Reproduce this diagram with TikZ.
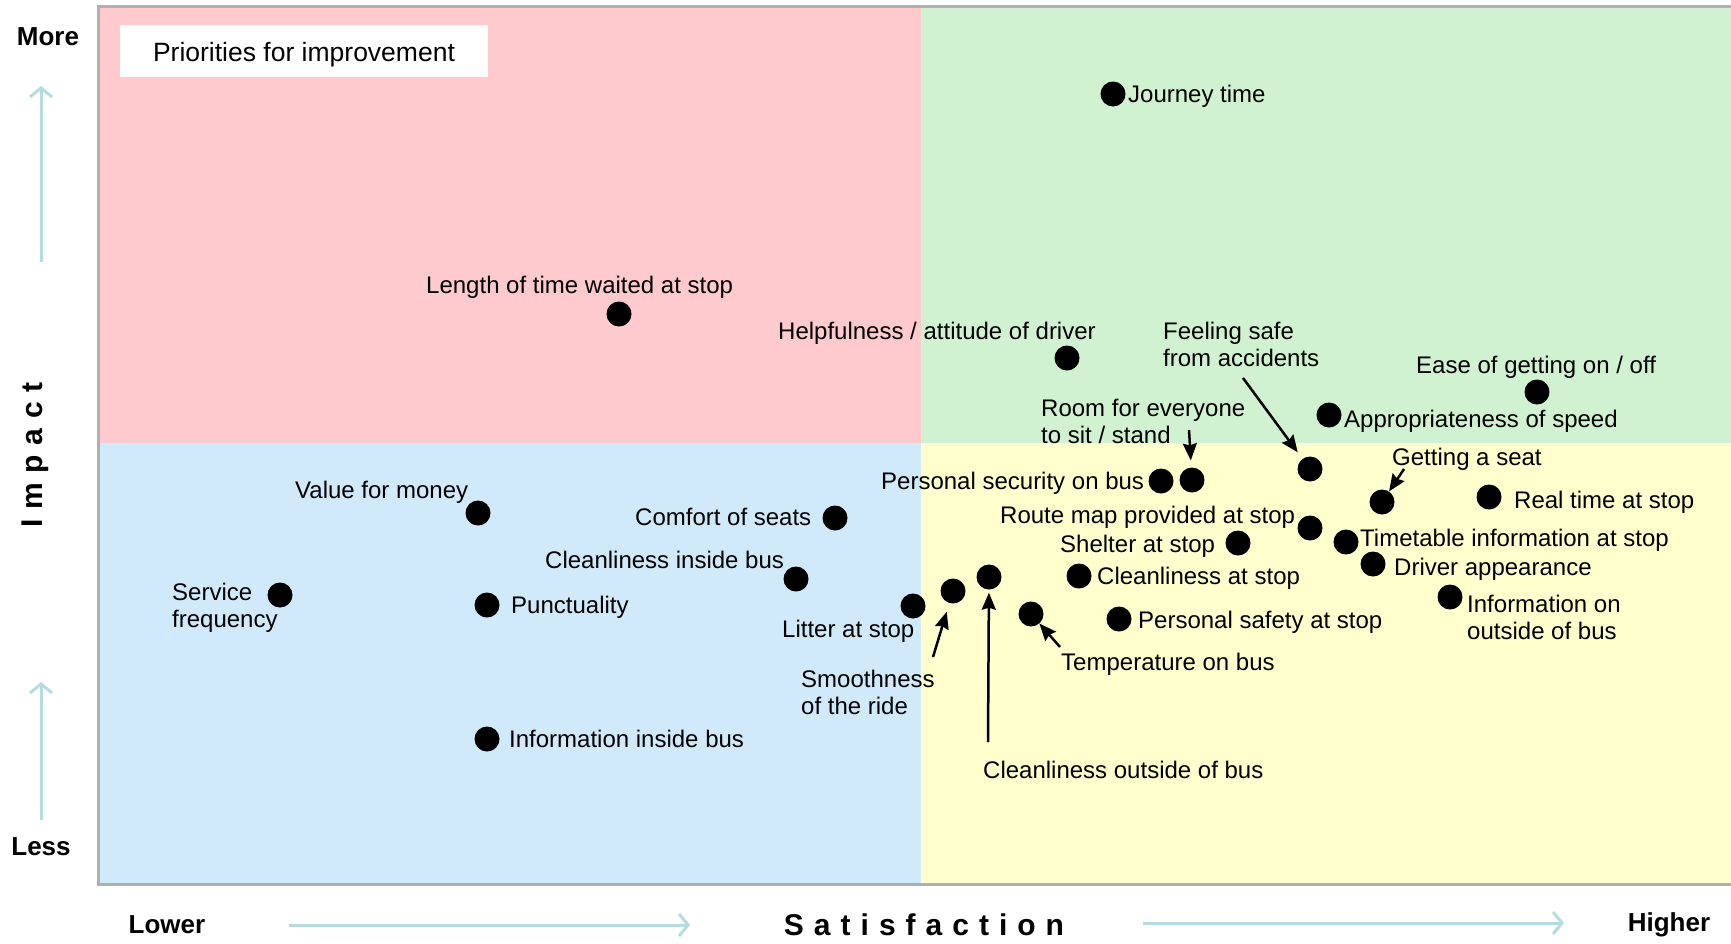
\documentclass[tikz,border=0pt]{standalone}
\usepackage{fontspec}
\setmainfont{Liberation Sans}
\usetikzlibrary{arrows.meta}
\definecolor{redq}{RGB}{255,202,206}
\definecolor{greenq}{RGB}{208,242,208}
\definecolor{blueq}{RGB}{208,234,252}
\definecolor{yellowq}{RGB}{255,255,206}
\definecolor{framecol}{RGB}{176,176,176}
\definecolor{axcol}{RGB}{180,220,224}
\begin{document}
\begin{tikzpicture}[x=1pt,y=-1pt,
  lbl/.style={font=\fontsize{24}{26.5}\selectfont, inner sep=0pt, anchor=mid west, yshift=-5pt},
  mlbl/.style={font=\fontsize{24}{26.5}\selectfont, inner sep=0pt, anchor=north west, align=left, yshift=-2pt},
  dot/.style={circle, fill=black, minimum size=25pt, inner sep=0pt},
  ptr/.style={line width=2.5pt, -{Stealth[length=17pt,width=14pt,inset=2pt]}},
  axarr/.style={draw=axcol, line width=3pt, -{Straight Barb[length=9pt,width=22pt,line width=3pt]}},
  axlbl/.style={font=\fontsize{26}{30}\selectfont\bfseries, inner sep=0pt},
  bigax/.style={font=\fontsize{30}{34}\selectfont\bfseries, inner sep=0pt}]
\useasboundingbox (0,0) rectangle (1731,943);
% quadrants
\fill[redq] (98,6) rectangle (921,443);
\fill[greenq] (921,6) rectangle (1745,443);
\fill[blueq] (98,443) rectangle (921,884);
\fill[yellowq] (921,443) rectangle (1745,884);
\draw[framecol, line width=3pt] (98,6) rectangle (1745,884);
% priorities box
\node[fill=white, minimum width=368pt, minimum height=52pt, inner sep=0pt,
  font=\fontsize{26.5}{30}\selectfont] (prio) at (304,51) {\raisebox{-10pt}[0pt][0pt]{Priorities for improvement}};
% axis labels
\node[axlbl] (more) at (48,37) {More};
\node[axlbl] (less) at (41,847) {Less};
\node[axlbl] (lower) at (167,925) {Lower};
\node[axlbl] (higher) at (1669,925) {Higher};
\node[bigax, rotate=90] (impact) at (35,455) {I\hspace{9.6pt}m\hspace{9.6pt}p\hspace{9.6pt}a\hspace{9.6pt}c\hspace{9.6pt}t};
\node[bigax] (satis) at (924,925) {S\hspace{10pt}a\hspace{10pt}t\hspace{10pt}i\hspace{10pt}s\hspace{10pt}f\hspace{10pt}a\hspace{10pt}c\hspace{10pt}t\hspace{10pt}i\hspace{10pt}o\hspace{10pt}n};
% light axis arrows
\coordinate (vt0) at (41,262); \coordinate (vt1) at (41,86);
\coordinate (vb0) at (41,820); \coordinate (vb1) at (41,682);
\coordinate (hl0) at (289,925); \coordinate (hl1) at (690,925);
\coordinate (hr0) at (1143,923); \coordinate (hr1) at (1564,923);
\draw[axarr] (vt0) -- (vt1);
\draw[axarr] (vb0) -- (vb1);
\draw[axarr] (hl0) -- (hl1);
\draw[axarr] (hr0) -- (hr1);
% dots
\node[dot] (J) at (1113,94) {};
\node[dot] (LT) at (619,314) {};
\node[dot] (H) at (1067,358) {};
\node[dot] (E) at (1537,392) {};
\node[dot] (A) at (1329,415) {};
\node[dot] (FS) at (1310,469) {};
\node[dot] (PS) at (1161,481) {};
\node[dot] (RE) at (1192,480) {};
\node[dot] (GS) at (1382,502) {};
\node[dot] (RT) at (1489,497) {};
\node[dot] (RM) at (1310,528) {};
\node[dot] (SH) at (1238,543) {};
\node[dot] (TT) at (1346,542) {};
\node[dot] (DA) at (1373,564) {};
\node[dot] (CS) at (1079,576) {};
\node[dot] (IO) at (1450,597) {};
\node[dot] (PSS) at (1119,619) {};
\node[dot] (T) at (1031,614) {};
\node[dot] (CO) at (989,577) {};
\node[dot] (SM) at (953,591) {};
\node[dot] (LI) at (913,606) {};
\node[dot] (CI) at (796,579) {};
\node[dot] (CF) at (835,518) {};
\node[dot] (V) at (478,513) {};
\node[dot] (P) at (487,605) {};
\node[dot] (SF) at (280,595) {};
\node[dot] (II) at (487,739) {};
% labels
\node[lbl] (lJ) at (1128,95) {Journey time};
\node[lbl] (lLT) at (426,286) {Length of time waited at stop};
\node[lbl] (lH) at (778,332) {Helpfulness / attitude of driver};
\node[mlbl] (lFS) at (1163,320) {Feeling safe\\from accidents};
\node[lbl] (lE) at (1416,366) {Ease of getting on / off};
\node[mlbl] (lRE) at (1041,397) {Room for everyone\\to sit / stand};
\node[lbl] (lA) at (1344,420) {Appropriateness of speed};
\node[lbl] (lGS) at (1392,458) {Getting a seat};
\node[lbl] (lPS) at (881,482) {Personal security on bus};
\node[lbl] (lRT) at (1514,501) {Real time at stop};
\node[lbl] (lRM) at (1000,516) {Route map provided at stop};
\node[lbl] (lSH) at (1060,545) {Shelter at stop};
\node[lbl] (lTT) at (1360,539) {Timetable information at stop};
\node[lbl] (lDA) at (1394,568) {Driver appearance};
\node[lbl] (lCS) at (1097,577) {Cleanliness at stop};
\node[mlbl] (lIO) at (1467,593) {Information on\\outside of bus};
\node[lbl] (lPSS) at (1138,621) {Personal safety at stop};
\node[lbl] (lT) at (1061,663) {Temperature on bus};
\node[lbl] (lCO) at (983,771) {Cleanliness outside of bus};
\node[mlbl] (lSM) at (801,668) {Smoothness\\of the ride};
\node[lbl] (lLI) at (782,630) {Litter at stop};
\node[lbl] (lCI) at (545,561) {Cleanliness inside bus};
\node[lbl] (lCF) at (635,518) {Comfort of seats};
\node[lbl] (lV) at (295,491) {Value for money};
\node[mlbl] (lSF) at (172,581) {Service\\frequency};
\node[lbl] (lP) at (511,606) {Punctuality};
\node[lbl] (lII) at (509,740) {Information inside bus};
% pointer arrows
\coordinate (tRE) at (1189,430);
\coordinate (tFS) at (1243,378);
\coordinate (tGS) at (1404,469);
\coordinate (tSM) at (933,657);
\coordinate (tCO) at (988,742);
\coordinate (tT) at (1060,647);
\draw[ptr, shorten >=7pt] (tRE) -- (RE);
\draw[ptr, shorten >=8pt] (tFS) -- (FS);
\draw[ptr] (tGS) -- (GS);
\draw[ptr, shorten >=9pt] (tSM) -- (SM);
\draw[ptr, shorten >=3pt] (tCO) -- (CO);
\draw[ptr] (tT) -- (T);
\end{tikzpicture}
\end{document}
